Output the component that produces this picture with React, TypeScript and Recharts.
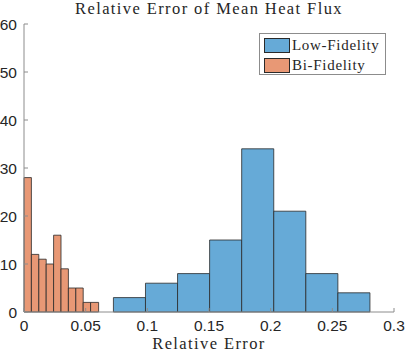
import React from 'react';
import { ComposedChart, XAxis, YAxis, ReferenceArea, Legend, Customized, Scatter } from 'recharts';

// ---- data ----
const lowEdges = [0.0725, 0.0985, 0.1245, 0.1505, 0.1765, 0.2025, 0.2285, 0.2545, 0.2805];
const lowCounts = [3, 6, 8, 15, 34, 21, 8, 4];
const biEdges = [0, 0.006, 0.012, 0.018, 0.024, 0.030, 0.036, 0.042, 0.048, 0.054, 0.0605];
const biCounts = [28, 12, 11, 10, 16, 9, 5, 5, 2, 2];
const xTicks = [0, 0.05, 0.1, 0.15, 0.2, 0.25, 0.3];
const yTicks = [0, 10, 20, 30, 40, 50, 60];
const seriesNames = ['Low-Fidelity', 'Bi-Fidelity'];
const title = 'Relative Error of Mean Heat Flux';
const xLabel = 'Relative Error';

const BLUE = '#66aad7';
const ORANGE = '#e89875';
const EDGE = '#2a2a2a';
const AXIS = '#8c8c8c';
const SERIF = '"Liberation Serif", "Times New Roman", serif';
const SANS = '"Liberation Sans", Arial, Helvetica, sans-serif';

const colors = [BLUE, ORANGE];

const anchorPoints = [
  { x: 0, y: 0 },
  { x: 0.3, y: 60 },
];

const tickStyle = { fill: '#262626', fontSize: 15.5, fontFamily: SANS };

const LegendBox = () => (
  <div
    style={{
      width: 127,
      height: 42,
      border: `1px solid ${AXIS}`,
      background: '#fff',
      boxSizing: 'border-box',
      fontFamily: SERIF,
      fontSize: 15,
      letterSpacing: 0.7,
      color: '#262626',
      paddingTop: 2,
    }}
  >
    {seriesNames.map((n, i) => (
      <div key={n} style={{ display: 'flex', alignItems: 'center', height: 19.5, marginLeft: 4 }}>
        <div
          style={{
            width: 26,
            height: 15,
            background: colors[i],
            border: `1px solid ${EDGE}`,
            boxSizing: 'border-box',
            marginRight: 2,
          }}
        />
        <span style={{ lineHeight: '19px' }}>{n}</span>
      </div>
    ))}
  </div>
);

const Texts = () => (
  <g>
    <text x={209} y={13.5} textAnchor="middle" fontFamily={SERIF} fontSize={16.5} letterSpacing={1.4} fill="#262626">
      {title}
    </text>
    <text x={209} y={349.3} textAnchor="middle" fontFamily={SERIF} fontSize={16.5} letterSpacing={1.4} fill="#262626">
      {xLabel}
    </text>
  </g>
);

export default function App() {
  return (
    <div style={{ position: 'absolute', left: 0, top: 0, width: 407, height: 355, background: '#fff' }}>
      <ComposedChart width={407} height={355} margin={{ top: 24, right: 13, bottom: 0, left: 0 }}>
        <XAxis
          xAxisId="b"
          type="number"
          dataKey="x"
          domain={[0, 0.3]}
          ticks={xTicks}
          allowDataOverflow
          height={43}
          stroke={AXIS}
          tickSize={-4}
          tickMargin={12}
          tick={tickStyle}
          tickFormatter={(v: number) => String(v)}
          interval={0}
        />
        <XAxis
          xAxisId="t"
          orientation="top"
          type="number"
          domain={[0, 0.3]}
          ticks={xTicks}
          allowDataOverflow
          height={0}
          stroke={AXIS}
          tickSize={-4}
          tick={false}
          interval={0}
        />
        <YAxis
          yAxisId="l"
          type="number"
          dataKey="y"
          domain={[0, 60]}
          ticks={yTicks}
          allowDataOverflow
          width={24}
          stroke={AXIS}
          tickSize={-4}
          tickMargin={11}
          tick={tickStyle}
          interval={0}
        />
        <YAxis
          yAxisId="r"
          orientation="right"
          type="number"
          domain={[0, 60]}
          ticks={yTicks}
          allowDataOverflow
          width={0}
          stroke={AXIS}
          tickSize={-4}
          tick={false}
          interval={0}
        />
        <Scatter
          xAxisId="b"
          yAxisId="l"
          data={anchorPoints}
          dataKey="y"
          isAnimationActive={false}
          legendType="none"
          shape={() => <g />}
        />
        <Scatter
          xAxisId="t"
          yAxisId="r"
          data={anchorPoints}
          dataKey="y"
          isAnimationActive={false}
          legendType="none"
          shape={() => <g />}
        />
        {biCounts.map((c, i) => (
          <ReferenceArea
            key={`bi-${i}`}
            xAxisId="b"
            yAxisId="l"
            x1={biEdges[i]}
            x2={biEdges[i + 1]}
            y1={0}
            y2={c}
            fill={ORANGE}
            fillOpacity={1}
            stroke={EDGE}
            strokeWidth={0.8}
            ifOverflow="visible"
          />
        ))}
        {lowCounts.map((c, i) => (
          <ReferenceArea
            key={`low-${i}`}
            xAxisId="b"
            yAxisId="l"
            x1={lowEdges[i]}
            x2={lowEdges[i + 1]}
            y1={0}
            y2={c}
            fill={BLUE}
            fillOpacity={1}
            stroke={EDGE}
            strokeWidth={0.8}
            ifOverflow="visible"
          />
        ))}
        <Customized component={Texts} />
        <Legend
          layout="vertical"
          align="center"
          verticalAlign="middle"
          content={() => <LegendBox />}
          wrapperStyle={{ left: 259, top: 33, width: 127, height: 42 }}
        />
      </ComposedChart>
    </div>
  );
}
